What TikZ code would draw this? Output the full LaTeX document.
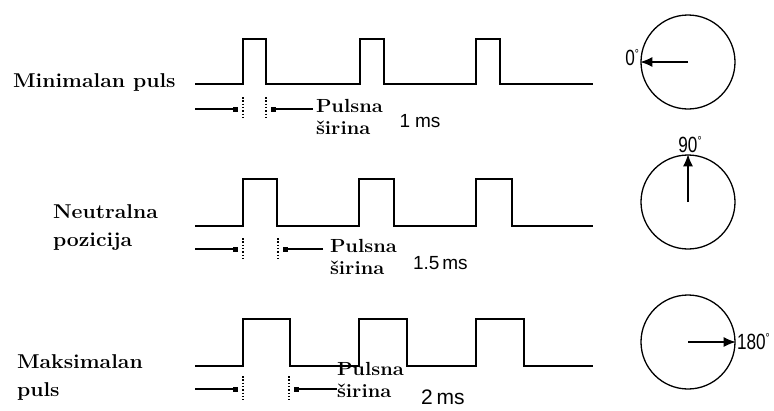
\documentclass[tikz,border=0pt]{standalone}
\usepackage{fontspec}
\newfontfamily\sansf{Liberation Sans}
\usetikzlibrary{arrows.meta}
\newcommand{\serlab}[1]{\scalebox{1.06}[1]{\fontsize{20}{28}\selectfont\bfseries\begin{tabular}{@{}l@{}}#1\end{tabular}}}
\newcommand{\pwlab}[1]{\scalebox{1.06}[1]{\fontsize{19}{22}\selectfont\bfseries\begin{tabular}{@{}l@{}}#1\end{tabular}}}
\newcommand{\degl}[1]{\scalebox{0.78}[1]{\sansf\fontsize{22}{24}\selectfont #1\raisebox{7pt}{\fontsize{13}{13}\selectfont °}}}
\tikzset{
  wave/.style={line width=2pt, line join=miter},
  dimline/.style={line width=1.3pt, -{Square[length=5pt,width=5pt]}},
  guide/.style={line width=1.2pt, dash pattern=on 1.5pt off 1.8pt},
  dial/.style={line width=1.3pt},
  pointer/.style={line width=1.3pt, -{Latex[length=12pt,width=10pt]}},
  txt/.style={inner sep=0pt, outer sep=0pt},
}
\begin{document}
\begin{tikzpicture}[x=1pt,y=-1pt]
\useasboundingbox (0,0) rectangle (774,410);
\fill[white] (0,0) rectangle (774,410);

% ---------- Row 1 ----------
\node[txt, anchor=west] (lab1) at (13,82) {\serlab{Minimalan puls}};
\draw[wave] (195,84) -- (243,84) -- (243,39) -- (266,39) -- (266,84)
  -- (360,84) -- (360,39) -- (384,39) -- (384,84)
  -- (476,84) -- (476,39) -- (500,39) -- (500,84) -- (593,84);
\coordinate (g1a) at (243,97); \coordinate (g1b) at (243,118);
\coordinate (g1c) at (266,97); \coordinate (g1d) at (266,118);
\draw[guide] (g1a) -- (g1b);
\draw[guide] (g1c) -- (g1d);
\coordinate (d1l) at (195,109); \coordinate (d1le) at (238,109);
\coordinate (d1r) at (313,109); \coordinate (d1re) at (271,109);
\draw[dimline] (d1l) -- (d1le);
\draw[dimline] (d1r) -- (d1re);
\node[txt, anchor=west] (pw1) at (316,119) {\pwlab{Pulsna\\širina}};
\node[txt] (ms1) at (420,121) {\sansf\fontsize{19}{20}\selectfont 1\hspace{5pt}ms};

\node[draw, dial, circle, minimum size=94pt, inner sep=0pt] (c1) at (688,62) {};
\draw[pointer] (c1.center) -- (c1.west);
\node[txt, anchor=east] (t1) at (639,58) {\degl{0}};

% ---------- Row 2 ----------
\node[txt, anchor=west] (lab2) at (53,227) {\serlab{Neutralna\\pozicija}};
\draw[wave] (195,226) -- (243,226) -- (243,179) -- (277,179) -- (277,226)
  -- (359,226) -- (359,179) -- (394,179) -- (394,226)
  -- (476,226) -- (476,179) -- (512,179) -- (512,226) -- (593,226);
\coordinate (g2a) at (243,238); \coordinate (g2b) at (243,259);
\coordinate (g2c) at (278,238); \coordinate (g2d) at (278,259);
\draw[guide] (g2a) -- (g2b);
\draw[guide] (g2c) -- (g2d);
\coordinate (d2l) at (195,249); \coordinate (d2le) at (238,249);
\coordinate (d2r) at (323,249); \coordinate (d2re) at (283,249);
\draw[dimline] (d2l) -- (d2le);
\draw[dimline] (d2r) -- (d2re);
\node[txt, anchor=west] (pw2) at (330,259) {\pwlab{Pulsna\\širina}};
\node[txt, anchor=west] (ms2) at (413,263) {\sansf\fontsize{19}{20}\selectfont 1.5\hspace{3pt}ms};

\node[draw, dial, circle, minimum size=94pt, inner sep=0pt] (c2) at (688,202) {};
\draw[pointer] (c2.center) -- (c2.north);
\node[txt, anchor=south] (t2) at (690,153) {\degl{90}};

% ---------- Row 3 ----------
\node[txt, anchor=west] (lab3) at (17,377) {\serlab{Maksimalan\\puls}};
\draw[wave] (195,366) -- (243,366) -- (243,319) -- (290,319) -- (290,366)
  -- (359,366) -- (359,319) -- (407,319) -- (407,366)
  -- (476,366) -- (476,319) -- (524,319) -- (524,366) -- (593,366);
\coordinate (g3a) at (243,376); \coordinate (g3b) at (243,400);
\coordinate (g3c) at (289,376); \coordinate (g3d) at (289,400);
\draw[guide] (g3a) -- (g3b);
\draw[guide] (g3c) -- (g3d);
\coordinate (d3l) at (195,389); \coordinate (d3le) at (238,389);
\coordinate (d3r) at (337,389); \coordinate (d3re) at (294,389);
\draw[dimline] (d3l) -- (d3le);
\draw[dimline] (d3r) -- (d3re);
\node[txt, anchor=west] (pw3) at (337,382) {\pwlab{Pulsna\\širina}};
\node[txt, anchor=west] (ms3) at (421,397) {\sansf\fontsize{21}{22}\selectfont 2\hspace{4pt}ms};

\node[draw, dial, circle, minimum size=94pt, inner sep=0pt] (c3) at (688,342) {};
\draw[pointer] (c3.center) -- (c3.east);
\node[txt, anchor=west] (t3) at (737,342) {\degl{180}};
\end{tikzpicture}
\end{document}
